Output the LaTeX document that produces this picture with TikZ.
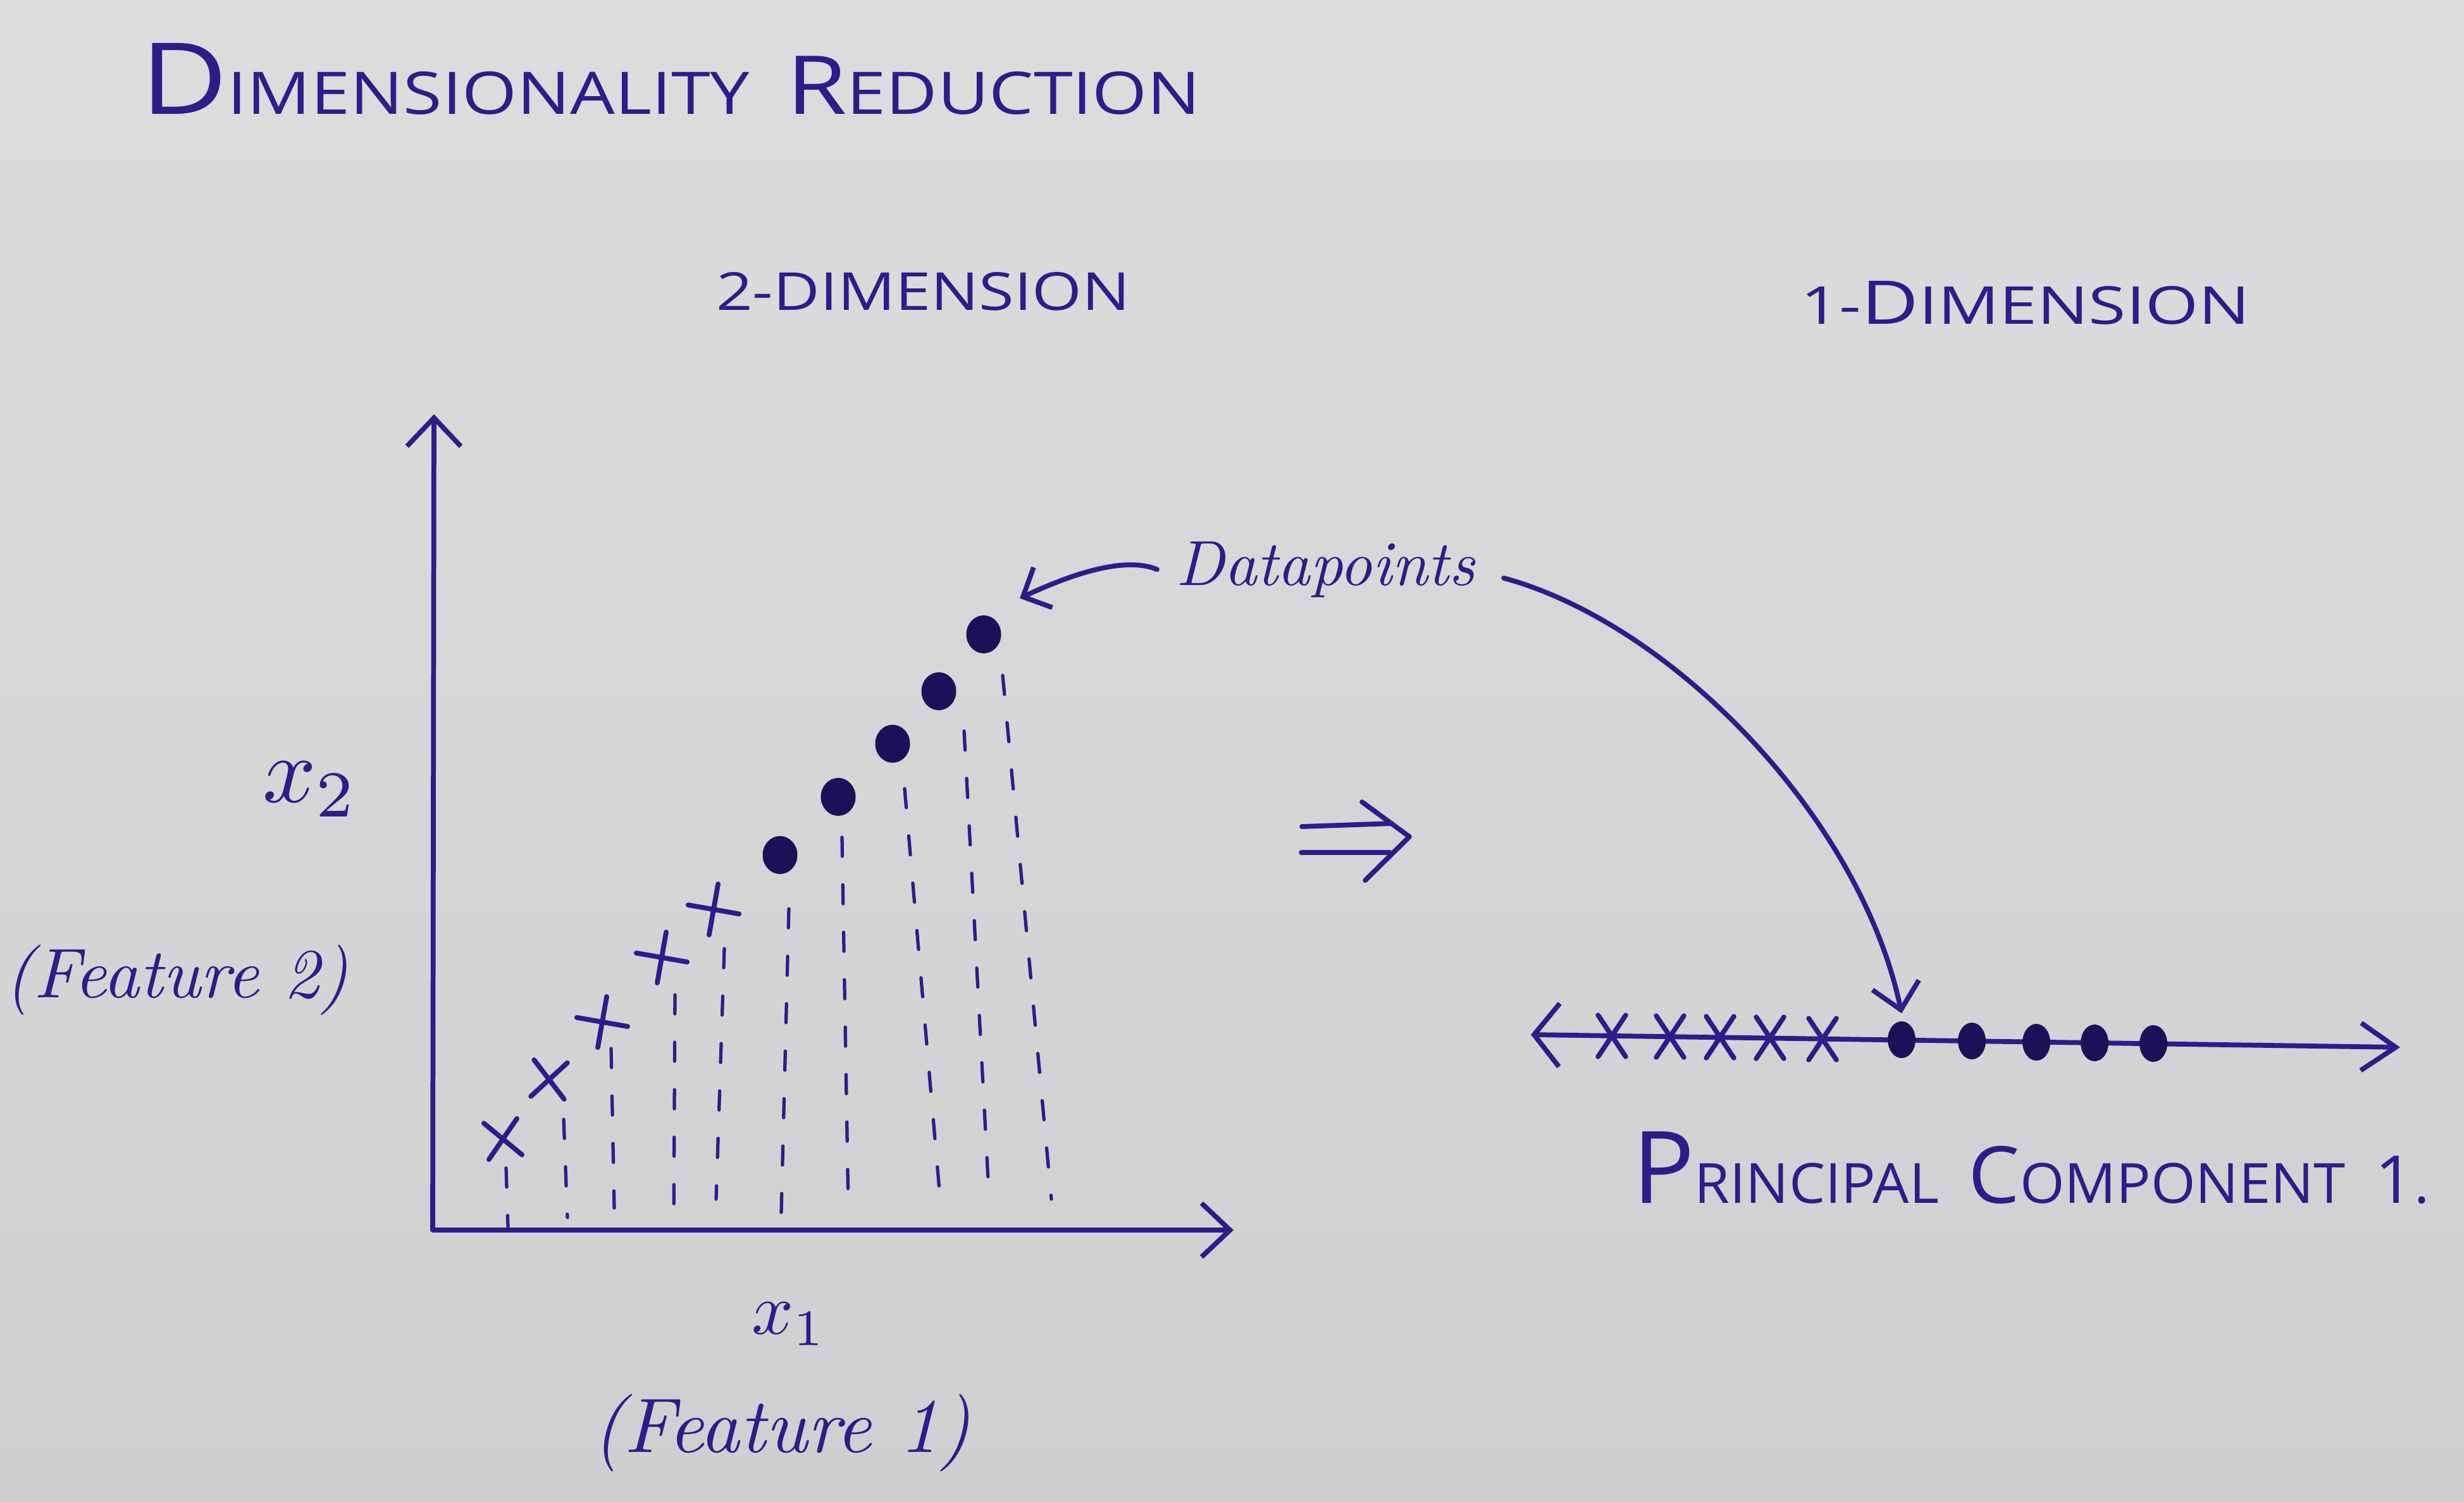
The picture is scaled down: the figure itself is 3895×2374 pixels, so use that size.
\documentclass[tikz,border=0pt]{standalone}
\usepackage{fontspec}
\newfontfamily\hand{Open Sans}
\usetikzlibrary{arrows.meta,shapes.geometric,shapes.misc}
\definecolor{ink}{RGB}{46,28,138}
\definecolor{inkdark}{RGB}{30,16,88}
\definecolor{paper}{RGB}{207,207,209}
\definecolor{paperlight}{RGB}{221,221,222}
\begin{document}
\begin{tikzpicture}[x=0.01cm,y=-0.01cm,
  pen/.style={draw=ink,line width=2.2pt,line cap=round,line join=round},
  dashln/.style={draw=ink,line width=1.5pt,dash pattern=on 0.3cm off 0.45cm,line cap=round},
  txt/.style={text=ink,inner sep=0pt,outer sep=0pt},
  bigdot/.style={ellipse,fill=inkdark,draw=none,minimum width=0.55cm,minimum height=0.6cm,inner sep=0pt},
  linedot/.style={ellipse,fill=inkdark,draw=none,minimum width=0.44cm,minimum height=0.58cm,inner sep=0pt},
  xmark/.style={cross out,draw=ink,line width=2.2pt,line cap=round,minimum width=0.45cm,minimum height=0.5cm,inner sep=0pt},
  pmark/.style={cross out,draw=ink,line width=2.2pt,line cap=round,minimum size=0.5cm,inner sep=0pt,rotate=35},
  lmark/.style={cross out,draw=ink,line width=2.2pt,line cap=round,minimum width=0.36cm,minimum height=0.58cm,inner sep=0pt},
]
% paper
\shade[top color=paperlight,bottom color=paper] (0,0) rectangle (3895,2374);
\useasboundingbox (0,0) rectangle (3895,2374);

% headings
\node[txt,anchor=base west] (title) at (222,180)
  {\resizebox{16.75cm}{1.12cm}{\hand\fontsize{26}{26}\selectfont{\fontsize{44}{44}\selectfont D}IMENSIONALITY\ \ {\fontsize{36}{36}\selectfont R}EDUCTION}};
\node[txt,anchor=base west] (twod) at (1132,490)
  {\resizebox{6.54cm}{0.6cm}{\hand\fontsize{26}{26}\selectfont 2-DIMENSION}};
\node[txt,anchor=base west] (oned) at (2846,512)
  {\resizebox{7.1cm}{0.68cm}{\hand\fontsize{26}{26}\selectfont 1-{\fontsize{30}{30}\selectfont D}IMENSION}};

% axes of the 2-D plot
\coordinate (O) at (684,1945);
\coordinate (ytip) at (686,655);
\coordinate (xtip) at (1950,1945);
\draw[pen,{Straight Barb[length=0.45cm,width=0.85cm]}-{Straight Barb[length=0.45cm,width=0.85cm]}] (ytip) -- (O) -- (xtip);

% axis labels
\node[txt,anchor=north west] (xtwo) at (415,1205) {\resizebox{1.51cm}{!}{$x_2$}};
\node[txt,anchor=west] (ftwo) at (8,1550) {\resizebox{5.43cm}{!}{\itshape (Feature 2)}};
\node[txt,anchor=north west] (xone) at (1188,2060) {\resizebox{1.18cm}{!}{$x_1$}};
\node[txt,anchor=west] (fone) at (936,2266) {\resizebox{5.98cm}{!}{\itshape (Feature 1)}};

% projection lines down to the x1 axis
\foreach \sx/\sy/\ex/\ey in {800/1847/803/1940, 891/1770/897/1925, 966/1658/971/1910,
    1067/1573/1065/1930, 1145/1500/1132/1896, 1247/1437/1235/1917, 1331/1324/1341/1910,
    1430/1247/1488/1917, 1524/1156/1564/1903, 1585/1068/1662/1896}
  \draw[dashln] (\sx,\sy) -- (\ex,\ey);

% 2-D data points
\node[xmark,rotate=8] (c1) at (795,1801) {};
\node[xmark,rotate=-5] (c2) at (868,1707) {};
\node[pmark] (c3) at (952,1616) {};
\node[pmark] (c4) at (1046,1514) {};
\node[pmark] (c5) at (1128,1438) {};
\node[bigdot] (d1) at (1233,1352) {};
\node[bigdot] (d2) at (1325,1260) {};
\node[bigdot] (d3) at (1411,1176) {};
\node[bigdot] (d4) at (1484,1093) {};
\node[bigdot] (d5) at (1555,1003) {};

% label pointing at the points
\node[txt,anchor=base west] (dp) at (1859,925) {\resizebox{4.72cm}{!}{\itshape Datapoints}};
\coordinate (dtip) at (1612,946);
\draw[pen,-{Straight Barb[length=0.35cm,width=0.7cm]}] ([xshift=-0.3cm]dp.west) .. controls (1780,880) and (1700,905) .. (dtip);

% implies sign
\coordinate (i1) at (2058,1307); \coordinate (i2) at (2200,1302);
\coordinate (i3) at (2057,1348); \coordinate (i4) at (2197,1348);
\coordinate (i5) at (2153,1268); \coordinate (i6) at (2228,1323); \coordinate (i7) at (2158,1392);
\draw[pen] (i1) -- (i2);
\draw[pen] (i3) -- (i4);
\draw[pen] (i5) -- (i6) -- (i7);

% 1-D principal component axis
\coordinate (L) at (2420,1636);
\coordinate (R) at (3794,1656);
\draw[pen,{Straight Barb[length=0.4cm,width=1.0cm]}-{Straight Barb[length=0.55cm,width=0.75cm]}] (L) -- (R);
\node[lmark] (q1) at (2548,1638) {};
\node[lmark] (q2) at (2640,1639) {};
\node[lmark] (q3) at (2719,1640) {};
\node[lmark] (q4) at (2798,1641) {};
\node[lmark] (q5) at (2881,1643) {};
\node[linedot] (p1) at (3006,1644) {};
\node[linedot] (p2) at (3117,1646) {};
\node[linedot] (p3) at (3219,1648) {};
\node[linedot] (p4) at (3311,1649) {};
\node[linedot] (p5) at (3404,1650) {};

% the points land on the line
\coordinate (cs) at (2377,914);
\draw[pen,-{Straight Barb[length=0.4cm,width=0.75cm]}] (cs) .. controls (2640,985) and (2940,1290) .. ([yshift=0.12cm]p1.north);

\node[txt,anchor=base west] (pc) at (2580,1902)
  {\resizebox{12.6cm}{1.13cm}{\hand\fontsize{26}{26}\selectfont{\fontsize{47}{47}\selectfont P}RINCIPAL\ \ {\fontsize{37}{37}\selectfont C}OMPONENT\ \ {\fontsize{31}{31}\selectfont 1}.}};
\end{tikzpicture}
\end{document}
